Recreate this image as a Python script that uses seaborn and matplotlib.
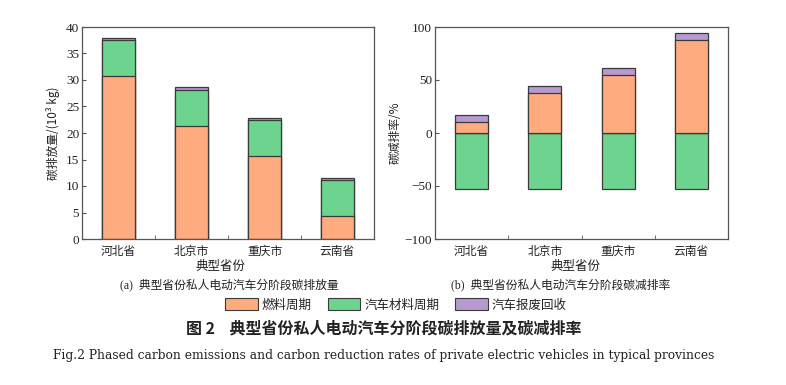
import matplotlib
matplotlib.use('Agg')
import matplotlib.pyplot as plt
import matplotlib.patches as mpatches
import numpy as np
import pandas as pd
import seaborn as sns

# data
provinces = ['河北省', '北京市', '重庆市', '云南省']
emis_fuel = [30.7, 21.4, 15.7, 4.3]
emis_material = [6.8, 6.8, 6.7, 6.9]
emis_scrap = [0.4, 0.5, 0.5, 0.4]
red_fuel = [10.0, 37.4, 54.7, 87.4]
red_material = [-52.5, -52.5, -52.5, -52.5]
red_scrap = [7.0, 6.6, 6.3, 6.6]
series_names = ['燃料周期', '汽车材料周期', '汽车报废回收']

c_fuel = '#FDAB7F'
c_mat = '#6DD48F'
c_scrap = '#B69AD0'
edge = '#3a3a3a'

sns.set_style('white')
plt.rcParams['font.family'] = ['Noto Sans CJK SC', 'DejaVu Sans']
serif = ['Liberation Serif', 'Noto Sans CJK SC']
txt = '#222222'

fig = plt.figure(figsize=(7.86, 3.85), dpi=100)
ax1 = fig.add_axes([82 / 786, 1 - 239 / 385, 292 / 786, 212 / 385])
ax2 = fig.add_axes([435 / 786, 1 - 239 / 385, 293 / 786, 212 / 385])


def stacked(ax, layers):
    # layers: list of (heights, color), drawn back to front
    for vals, col in layers:
        df = pd.DataFrame({'prov': provinces, 'v': vals})
        sns.barplot(data=df, x='prov', y='v', order=provinces, color=col,
                    saturation=1, width=0.45, edgecolor=edge, linewidth=0.9,
                    errorbar=None, ax=ax)


f1 = np.array(emis_fuel)
m1 = np.array(emis_material)
s1 = np.array(emis_scrap)
stacked(ax1, [(f1 + m1 + s1, c_scrap), (f1 + m1, c_mat), (f1, c_fuel)])

f2 = np.array(red_fuel)
s2 = np.array(red_scrap)
stacked(ax2, [(red_material, c_mat), (f2 + s2, c_scrap), (f2, c_fuel)])

ax1.set_ylim(0, 40)
ax1.set_yticks(range(0, 41, 5))
ax2.set_ylim(-100, 100)
ax2.set_yticks([-100, -50, 0, 50, 100])
ax2.set_yticklabels(['\u2212100', '\u221250', '0', '50', '100'])

for ax in (ax1, ax2):
    ax.set_xlim(-0.5, 3.5)
    ax.set_xlabel('')
    ax.set_ylabel('')
    for sp in ax.spines.values():
        sp.set_visible(True)
        sp.set_color('#555555')
        sp.set_linewidth(0.9)
    ax.tick_params(axis='x', which='major', length=0, labelsize=8.5,
                   labelcolor=txt, pad=4)
    ax.set_xticks([0.5, 1.5, 2.5], minor=True)
    ax.tick_params(axis='x', which='minor', direction='in', length=3,
                   color='#555555', bottom=True)
    ax.tick_params(axis='y', direction='in', length=3, color='#555555',
                   labelsize=9.5, labelcolor=txt, pad=2, left=True)
    for lab in ax.get_yticklabels():
        lab.set_family(serif)

ax1.set_ylabel('碳排放量/(10³ kg)', fontsize=8.5, color=txt, labelpad=4)
ax2.set_ylabel('碳减排率/%', fontsize=8.5, color=txt, labelpad=2)

fig.text(221 / 786, 1 - 266 / 385, '典型省份', ha='center', va='center',
         fontsize=9, color=txt)
fig.text(576 / 786, 1 - 266 / 385, '典型省份', ha='center', va='center',
         fontsize=9, color=txt)
fig.text(229 / 786, 1 - 285 / 385, '(a)  典型省份私人电动汽车分阶段碳排放量',
         ha='center', va='center', fontsize=8.5, color=txt, family=serif)
fig.text(561 / 786, 1 - 285 / 385, '(b)  典型省份私人电动汽车分阶段碳减排率',
         ha='center', va='center', fontsize=8.5, color=txt, family=serif)

handles = [mpatches.Patch(facecolor=c, edgecolor=edge, linewidth=0.8, label=n)
           for c, n in zip([c_fuel, c_mat, c_scrap], series_names)]
fig.legend(handles=handles, loc='center', bbox_to_anchor=(396 / 786, 1 - 305 / 385),
           ncol=3, frameon=False, fontsize=9, handlelength=2.6, handleheight=1.1,
           handletextpad=0.3, columnspacing=1.3, labelcolor=txt, borderpad=0)

fig.text(384 / 786, 1 - 328 / 385, '图 2    典型省份私人电动汽车分阶段碳排放量及碳减排率',
         ha='center', va='center', fontsize=11.5, fontweight='bold', color=txt)
fig.text(384 / 786, 1 - 355 / 385,
         'Fig.2 Phased carbon emissions and carbon reduction rates of private electric vehicles in typical provinces',
         ha='center', va='center', fontsize=8.8, family='DejaVu Serif', color=txt)

fig.savefig('out.png', dpi=100)
